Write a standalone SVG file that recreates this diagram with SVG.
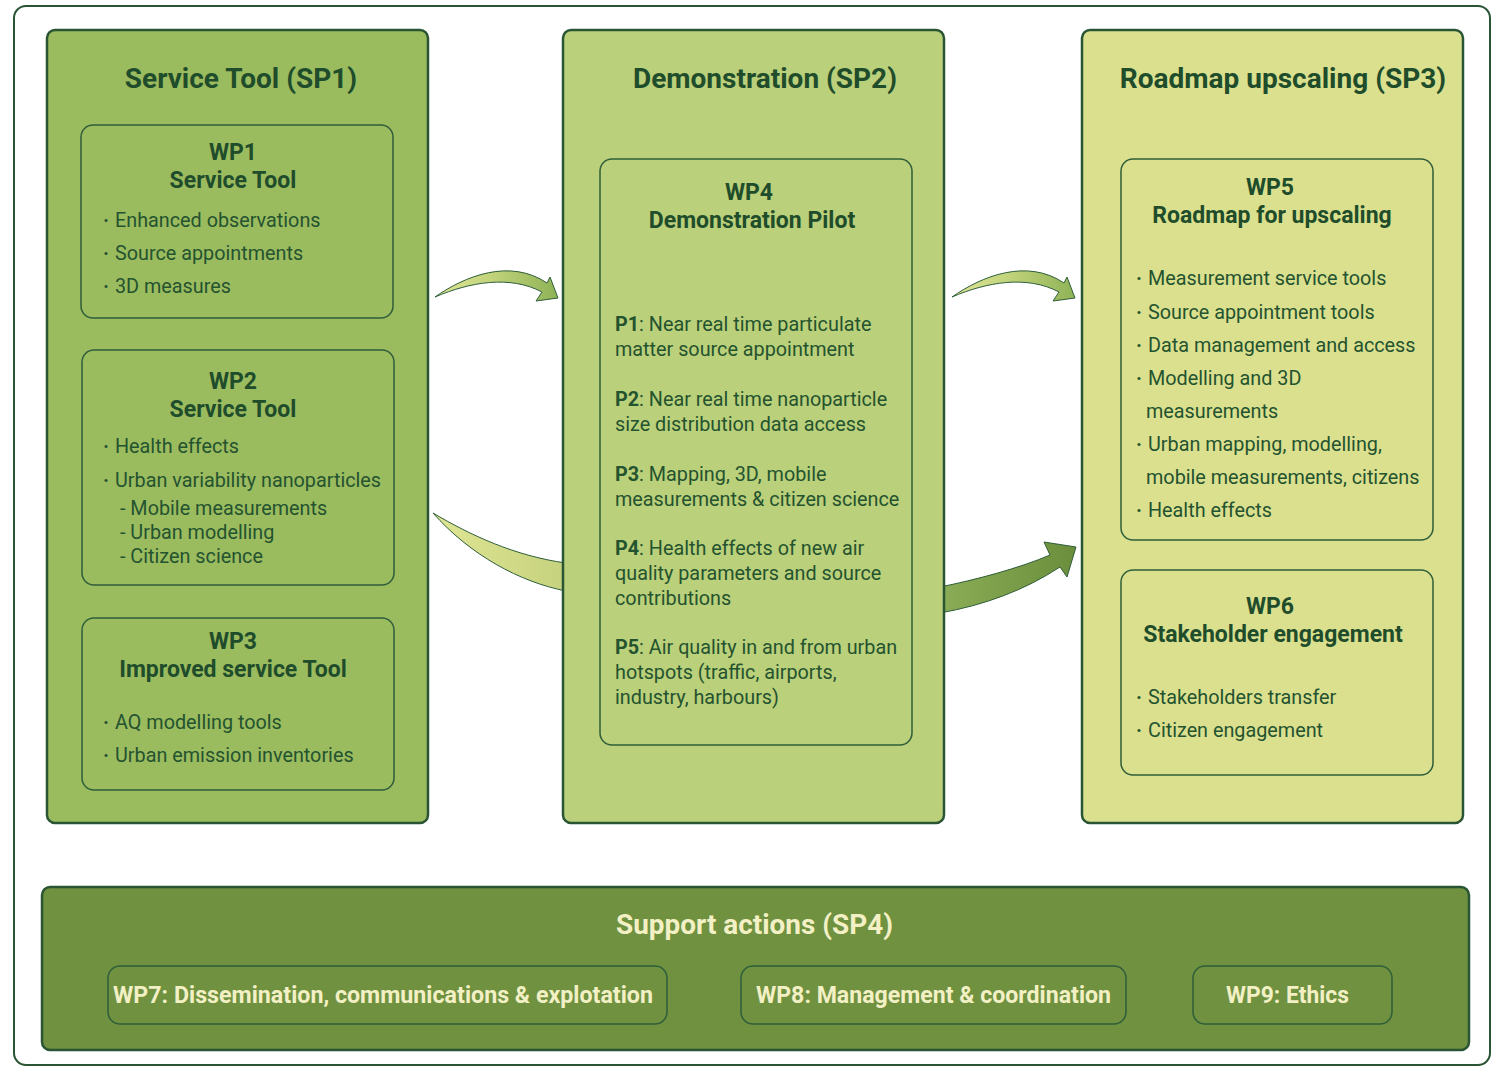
<svg xmlns="http://www.w3.org/2000/svg" width="1496" height="1067" viewBox="0 0 1496 1067">
<defs>
<style>
text{font-family:Roboto,"Liberation Sans",sans-serif;fill:#1f4d2b}
.sp{stroke:#2a5535;stroke-width:2.5}
.wp{fill:none;stroke:#2f5e3a;stroke-width:1.5}
.t1{font-size:28px;font-weight:700;text-anchor:middle}
.t2{font-size:23px;font-weight:700;text-anchor:middle}
.b{font-size:19.8px;fill:#24532f}
.bb{font-weight:700}
.d{font-weight:700}
.sup{fill:#f2f0c4;font-weight:700}
.arr{stroke:#2f5e3a;stroke-width:1}
</style>
<linearGradient id="gTop" x1="0" y1="0" x2="1" y2="0">
<stop offset="0" stop-color="#e0e596"/>
<stop offset="0.45" stop-color="#c2d47c"/>
<stop offset="1" stop-color="#8fb256"/>
</linearGradient>
<linearGradient id="gLow" x1="0" y1="0" x2="1" y2="0">
<stop offset="0" stop-color="#dfe594"/>
<stop offset="1" stop-color="#c6d27e"/>
</linearGradient>
<linearGradient id="gBig" x1="0" y1="0" x2="1" y2="0">
<stop offset="0" stop-color="#8cad57"/>
<stop offset="1" stop-color="#6a8e3c"/>
</linearGradient>
</defs>
<rect x="0" y="0" width="1496" height="1067" fill="#ffffff"/>
<rect id="frame" x="14" y="6" width="1476" height="1059" rx="12" fill="#ffffff" stroke="#2a5535" stroke-width="2"/>

<g id="connectors">
<path class="arr" fill="url(#gLow)" d="M433,513 C470,535 515,556 566,563 L566,591 C520,582 470,555 433,513 Z"/>
<path class="arr" fill="url(#gBig)" d="M940,587 C975,580 1020,568 1050,555 L1044,542 L1076,547 L1067,577 L1060,567 C1025,590 985,605 940,613 Z"/>
<path id="a1" class="arr" fill="url(#gTop)" d="M435,297 C465,276 510,258 547,283 L550,277 L558,298 L536,301 L542,292 C510,275 470,282 435,297 Z"/>
<path id="a2" class="arr" fill="url(#gTop)" transform="translate(517,0)" d="M435,297 C465,276 510,258 547,283 L550,277 L558,298 L536,301 L542,292 C510,275 470,282 435,297 Z"/>
</g>

<g id="sp1">
<rect class="sp" x="47" y="30" width="381" height="793" rx="8" fill="#9bbb5f"/>
<text class="t1" x="241" y="88">Service Tool (SP1)</text>
</g>
<g id="wp1">
<rect class="wp" x="81" y="125" width="312" height="193" rx="12"/>
<text class="t2" x="233" y="160">WP1</text>
<text class="t2" x="233" y="188">Service Tool</text>
<text class="b" x="103" y="227"><tspan class="d">·</tspan><tspan x="115">Enhanced observations</tspan></text>
<text class="b" x="103" y="260"><tspan class="d">·</tspan><tspan x="115">Source appointments</tspan></text>
<text class="b" x="103" y="293"><tspan class="d">·</tspan><tspan x="115">3D measures</tspan></text>
</g>
<g id="wp2">
<rect class="wp" x="82" y="350" width="312" height="235" rx="12"/>
<text class="t2" x="233" y="389">WP2</text>
<text class="t2" x="233" y="417">Service Tool</text>
<text class="b" x="103" y="453"><tspan class="d">·</tspan><tspan x="115">Health effects</tspan></text>
<text class="b" x="103" y="487"><tspan class="d">·</tspan><tspan x="115">Urban variability nanoparticles</tspan></text>
<text class="b" x="120" y="515">- Mobile measurements</text>
<text class="b" x="120" y="539">- Urban modelling</text>
<text class="b" x="120" y="563">- Citizen science</text>
</g>
<g id="wp3">
<rect class="wp" x="82" y="618" width="312" height="172" rx="12"/>
<text class="t2" x="233" y="649">WP3</text>
<text class="t2" x="233" y="677">Improved service Tool</text>
<text class="b" x="103" y="729"><tspan class="d">·</tspan><tspan x="115">AQ modelling tools</tspan></text>
<text class="b" x="103" y="762"><tspan class="d">·</tspan><tspan x="115">Urban emission inventories</tspan></text>
</g>

<g id="sp2">
<rect class="sp" x="563" y="30" width="381" height="793" rx="8" fill="#bbd07a"/>
<text class="t1" x="765" y="88">Demonstration (SP2)</text>
</g>
<g id="wp4">
<rect class="wp" x="600" y="159" width="312" height="586" rx="12"/>
<text class="t2" x="749" y="200">WP4</text>
<text class="t2" x="752" y="228">Demonstration Pilot</text>
<text class="b" x="615" y="331"><tspan class="bb">P1</tspan>: Near real time particulate</text>
<text class="b" x="615" y="356">matter source appointment</text>
<text class="b" x="615" y="406"><tspan class="bb">P2</tspan>: Near real time nanoparticle</text>
<text class="b" x="615" y="431">size distribution data access</text>
<text class="b" x="615" y="481"><tspan class="bb">P3</tspan>: Mapping, 3D, mobile</text>
<text class="b" x="615" y="506">measurements &amp; citizen science</text>
<text class="b" x="615" y="555"><tspan class="bb">P4</tspan>: Health effects of new air</text>
<text class="b" x="615" y="580">quality parameters and source</text>
<text class="b" x="615" y="605">contributions</text>
<text class="b" x="615" y="654"><tspan class="bb">P5</tspan>: Air quality in and from urban</text>
<text class="b" x="615" y="679">hotspots (traffic, airports,</text>
<text class="b" x="615" y="704">industry, harbours)</text>
</g>

<g id="sp3">
<rect class="sp" x="1082" y="30" width="381" height="793" rx="8" fill="#dbe08f"/>
<text class="t1" x="1283" y="88">Roadmap upscaling (SP3)</text>
</g>
<g id="wp5">
<rect class="wp" x="1121" y="159" width="312" height="381" rx="12"/>
<text class="t2" x="1270" y="195">WP5</text>
<text class="t2" x="1272" y="223">Roadmap for upscaling</text>
<text class="b" x="1136" y="285"><tspan class="d">·</tspan><tspan x="1148">Measurement service tools</tspan></text>
<text class="b" x="1136" y="319"><tspan class="d">·</tspan><tspan x="1148">Source appointment tools</tspan></text>
<text class="b" x="1136" y="352"><tspan class="d">·</tspan><tspan x="1148">Data management and access</tspan></text>
<text class="b" x="1136" y="385"><tspan class="d">·</tspan><tspan x="1148">Modelling and 3D</tspan></text>
<text class="b" x="1146" y="418">measurements</text>
<text class="b" x="1136" y="451"><tspan class="d">·</tspan><tspan x="1148">Urban mapping, modelling,</tspan></text>
<text class="b" x="1146" y="484">mobile measurements, citizens</text>
<text class="b" x="1136" y="517"><tspan class="d">·</tspan><tspan x="1148">Health effects</tspan></text>
</g>
<g id="wp6">
<rect class="wp" x="1121" y="570" width="312" height="205" rx="12"/>
<text class="t2" x="1270" y="614">WP6</text>
<text class="t2" x="1273" y="642">Stakeholder engagement</text>
<text class="b" x="1136" y="704"><tspan class="d">·</tspan><tspan x="1148">Stakeholders transfer</tspan></text>
<text class="b" x="1136" y="737"><tspan class="d">·</tspan><tspan x="1148">Citizen engagement</tspan></text>
</g>

<g id="sp4">
<rect class="sp" x="42" y="887" width="1427" height="163" rx="8" fill="#6f9140"/>
<text class="sup" x="616" y="934" font-size="28" textLength="277" lengthAdjust="spacingAndGlyphs">Support actions (SP4)</text>
</g>
<g id="wp7">
<rect class="wp" x="108" y="966" width="559" height="58" rx="12"/>
<text class="sup" x="113" y="1003" font-size="23" textLength="540" lengthAdjust="spacingAndGlyphs">WP7: Dissemination, communications &amp; explotation</text>
</g>
<g id="wp8">
<rect class="wp" x="741" y="966" width="385" height="58" rx="12"/>
<text class="sup" x="756" y="1003" font-size="23" textLength="355" lengthAdjust="spacingAndGlyphs">WP8: Management &amp; coordination</text>
</g>
<g id="wp9">
<rect class="wp" x="1193" y="966" width="199" height="58" rx="12"/>
<text class="sup" x="1226" y="1003" font-size="23" textLength="123" lengthAdjust="spacingAndGlyphs">WP9: Ethics</text>
</g>
</svg>
